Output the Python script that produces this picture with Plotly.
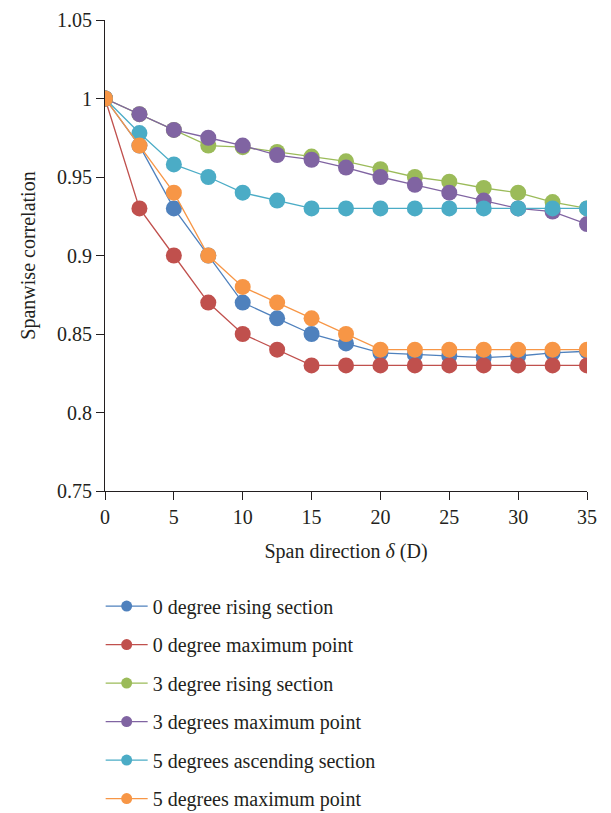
import plotly.graph_objects as go

span = [0, 2.5, 5, 7.5, 10, 12.5, 15, 17.5, 20, 22.5, 25, 27.5, 30, 32.5, 35]

names = [
    "0 degree rising section",
    "0 degree maximum point",
    "3 degree rising section",
    "3 degrees maximum point",
    "5 degrees ascending section",
    "5 degrees maximum point",
]

deg0_rising = [1.0, 0.97, 0.93, 0.90, 0.87, 0.86, 0.85, 0.844, 0.838, 0.837, 0.836, 0.835, 0.836, 0.838, 0.839]
deg0_max = [1.0, 0.93, 0.90, 0.87, 0.85, 0.84, 0.83, 0.83, 0.83, 0.83, 0.83, 0.83, 0.83, 0.83, 0.83]
deg3_rising = [1.0, 0.99, 0.98, 0.97, 0.969, 0.966, 0.963, 0.96, 0.955, 0.95, 0.947, 0.943, 0.94, 0.934, 0.93]
deg3_max = [1.0, 0.99, 0.98, 0.975, 0.97, 0.964, 0.961, 0.956, 0.95, 0.945, 0.94, 0.935, 0.93, 0.928, 0.92]
deg5_asc = [1.0, 0.978, 0.958, 0.95, 0.94, 0.935, 0.93, 0.93, 0.93, 0.93, 0.93, 0.93, 0.93, 0.93, 0.93]
deg5_max = [1.0, 0.97, 0.94, 0.90, 0.88, 0.87, 0.86, 0.85, 0.84, 0.84, 0.84, 0.84, 0.84, 0.84, 0.84]

series = [deg0_rising, deg0_max, deg3_rising, deg3_max, deg5_asc, deg5_max]
colors = ["#4F81BD", "#C0504D", "#9BBB59", "#8064A2", "#4BACC6", "#F79646"]

font_family = "Liberation Serif"
fs = 20

fig = go.Figure()
for i, (name, vals, col) in enumerate(zip(names, series, colors)):
    fig.add_trace(go.Scatter(
        x=span, y=vals, name=name, mode="lines+markers",
        line=dict(color=col, width=1.3),
        marker=dict(color=col, size=16, line=dict(width=0)),
        showlegend=False,
    ))
# legend entries with smaller symbols
for i, (name, col) in enumerate(zip(names, colors)):
    fig.add_trace(go.Scatter(
        x=[None], y=[None], name=name, mode="lines+markers",
        line=dict(color=col, width=1.3),
        marker=dict(color=col, size=11, line=dict(width=0)),
        legendgroup=str(i), showlegend=True,
    ))

fig.update_layout(
    width=603, height=805,
    paper_bgcolor="white", plot_bgcolor="white",
    margin=dict(l=97, r=24, t=12, b=322, autoexpand=False),
    font=dict(family=font_family, size=fs, color="#231f20"),
    showlegend=True,
    legend=dict(
        orientation="v", x=-0.009, xanchor="left", y=-0.203, yanchor="top",
        font=dict(family=font_family, size=fs, color="#231f20"),
        tracegroupgap=9.5, itemwidth=42,
        bgcolor="rgba(0,0,0,0)", borderwidth=0,
    ),
    xaxis=dict(
        range=[0, 35], tickvals=[0, 5, 10, 15, 20, 25, 30, 35],
        showgrid=False, zeroline=False, showline=True, linecolor="#231f20", linewidth=1.2,
        ticks="outside", ticklen=8, tickcolor="#231f20",
        tickfont=dict(size=fs),
        title=dict(text="Span direction <i>δ</i> (D)", font=dict(size=fs), standoff=16),
    ),
    yaxis=dict(
        range=[0.75, 1.05], tickvals=[0.75, 0.8, 0.85, 0.9, 0.95, 1.0, 1.05],
        ticktext=["0.75", "0.8", "0.85", "0.9", "0.95", "1", "1.05"],
        showgrid=False, zeroline=False, showline=True, linecolor="#231f20", linewidth=1.2,
        ticks="outside", ticklen=8, tickcolor="#231f20",
        tickfont=dict(size=fs),
        title=dict(text="Spanwise correlation", font=dict(size=fs), standoff=15),
    ),
)

fig.write_html("out.html")
